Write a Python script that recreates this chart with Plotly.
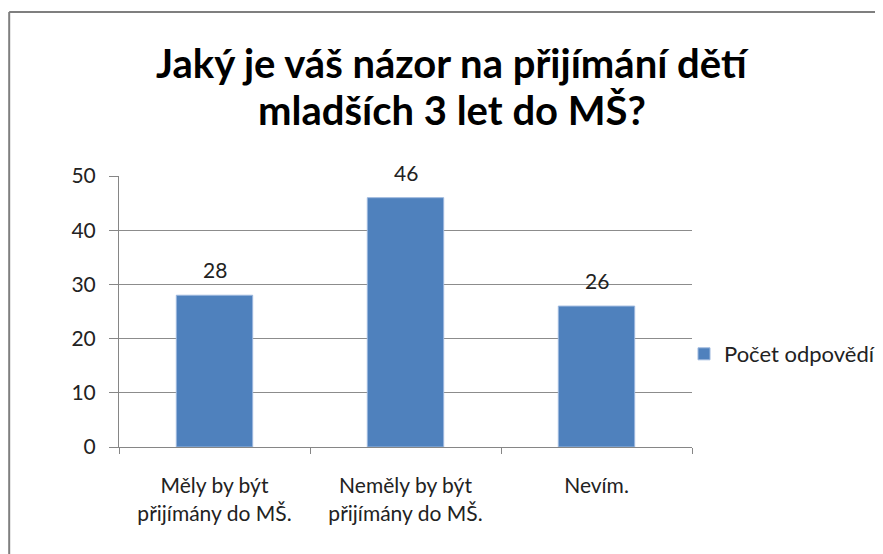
import plotly.graph_objects as go

categories = ["Měly by být<br>přijímány do MŠ.", "Neměly by být<br>přijímány do MŠ.", "Nevím."]
counts = [28, 46, 26]
series_name = "Počet odpovědí"
title_lines = ["Jaký je váš názor na přijímání dětí", "mladších 3 let do MŠ?"]
y_ticks = [0, 10, 20, 30, 40, 50]

font = "Lato, 'Open Sans', sans-serif"
W, H = 883, 554
L, R, T, B = 111, 198, 168, 115
pw, ph = W - L - R, H - T - B

def px_x(x):
    return (x - L) / pw

def px_y(y):
    return (H - B - y) / ph

fig = go.Figure()
fig.add_trace(go.Bar(
    x=categories,
    y=counts,
    name=series_name,
    marker=dict(color="#4F81BD", line=dict(color="#9DB8DE", width=1)),
    showlegend=True,
))

# data labels above bars
for c, v in zip(categories, counts):
    fig.add_annotation(x=c, y=v, text=str(v), showarrow=False,
                       yanchor="bottom", yshift=11,
                       font=dict(family=font, size=21, color="#222222"))

# two-line title, placed line by line to keep the tight spacing
for line, yc in zip(title_lines, [55, 102]):
    fig.add_annotation(xref="paper", yref="paper", x=px_x(445), y=px_y(yc),
                       text="<b>" + line + "</b>", showarrow=False,
                       xanchor="center", yanchor="middle",
                       font=dict(family=font, size=40, color="black"))

# chart frame (cropped at right/bottom like the screenshot)
fig.add_shape(type="line", xref="paper", yref="paper",
              x0=px_x(1), x1=px_x(1), y0=px_y(4), y1=-1,
              line=dict(color="#7F7F7F", width=2))
fig.add_shape(type="line", xref="paper", yref="paper",
              x0=px_x(1), x1=2, y0=px_y(4), y1=px_y(4),
              line=dict(color="#7F7F7F", width=2))

fig.update_layout(
    width=W, height=H,
    margin=dict(l=L, r=R, t=T, b=B),
    paper_bgcolor="white", plot_bgcolor="white",
    bargap=0.6,
    font=dict(family=font, size=21, color="#222222"),
    legend=dict(x=px_x(676), xanchor="left", y=px_y(346), yanchor="middle",
                font=dict(family=font, size=22, color="#222222"),
                bgcolor="rgba(0,0,0,0)"),
    xaxis=dict(showline=True, linecolor="#868686", linewidth=1,
               ticks="outside", tickson="boundaries", ticklen=6,
               tickcolor="#868686", showgrid=False, ticklabelstandoff=20,
               tickfont=dict(family=font, size=21)),
    yaxis=dict(range=[0, 50], tickvals=y_ticks, showline=True,
               linecolor="#868686", linewidth=1, ticks="outside",
               ticklen=9, tickcolor="#868686", showgrid=True,
               gridcolor="#8C8C8C", gridwidth=1, zeroline=False,
               ticklabelstandoff=9,
               tickfont=dict(family=font, size=21)),
)

fig.write_html("out.html")
